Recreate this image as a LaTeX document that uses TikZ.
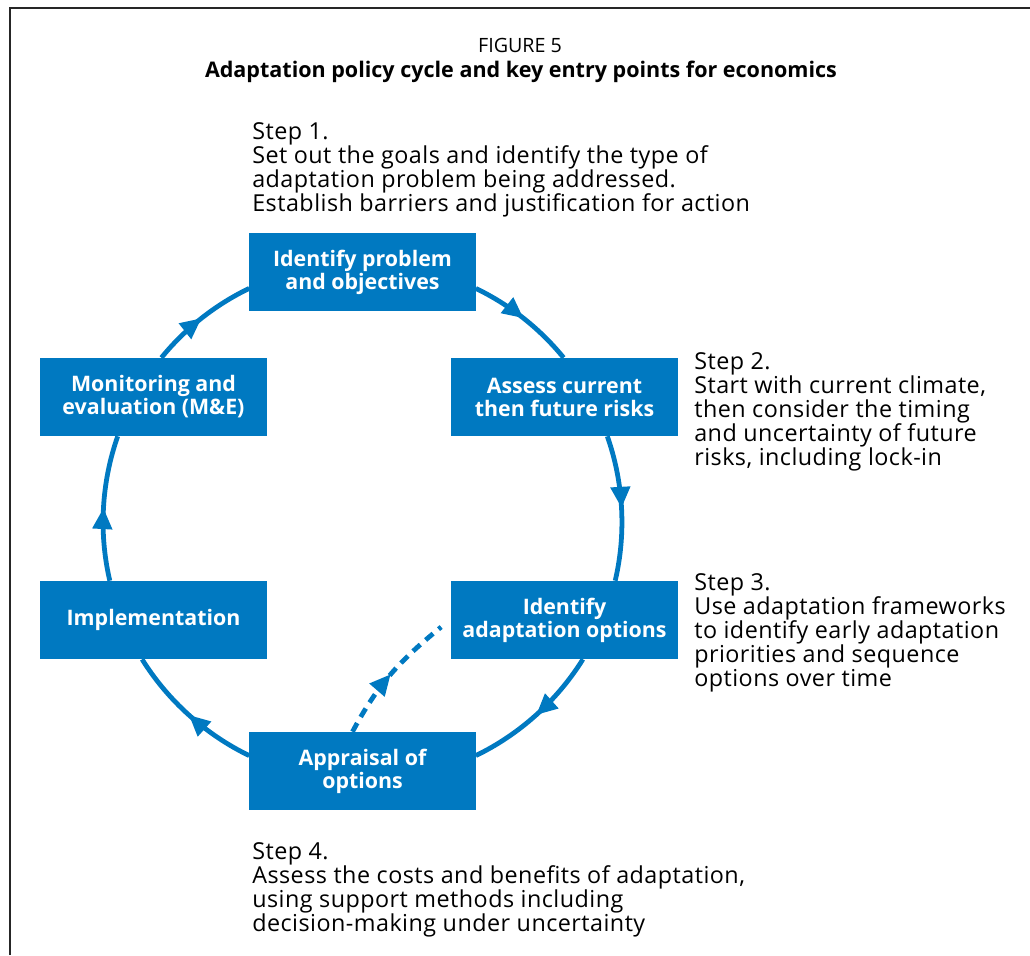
\documentclass[tikz,border=0pt]{standalone}
\usepackage{fontspec}
\setmainfont{Open Sans}
\usetikzlibrary{arrows.meta,calc,decorations.markings,backgrounds}
\definecolor{cycblue}{RGB}{0,121,193}

\begin{document}
\begin{tikzpicture}[x=0.025cm,y=0.025cm,
    loopline/.style={draw=cycblue,line width=3.4pt,looseness=0.865,
        postaction={decorate},
        decoration={markings,mark=at position 0.5 with {\arrow[cycblue]{Triangle[length=15pt,width=13.5pt]}}}},
    entryline/.style={draw=cycblue,line width=3.4pt,dash pattern=on 7pt off 5pt,
        postaction={decorate},
        decoration={markings,mark=at position 0.5 with {\arrow[cycblue]{Triangle[length=15pt,width=13.5pt]}}}},
    steptext/.style={anchor=north west,inner sep=0pt,align=left,
        font=\fontsize{16.6}{17.1}\selectfont\addfontfeature{LetterSpace=2}}]
\useasboundingbox (0,0) rectangle (1030,955);
\draw[line width=1.5pt,black!85] (10,0) -- (10,947) -- (1030,947);

% title
\node (fig) at (520,910) {\fontsize{14}{17}\selectfont FIGURE 5};
\node (ttl) at (521,883) {\fontsize{15.3}{17}\selectfont\bfseries Adaptation policy cycle and key entry points for economics};

% the six stages
\begin{scope}[every node/.style={rectangle,fill=cycblue,text=white,align=center,
        minimum width=5.65cm,minimum height=1.95cm,inner sep=0pt,
        font=\fontsize{15.2}{16.4}\selectfont\bfseries}]
    \node (prob) at (362.5,683) {Identify problem\\and objectives};
    \node (risk) at (564.5,558) {Assess current\\then future risks};
    \node (opts) at (564.5,335) {Identify\\adaptation options};
    \node (appr) at (362.5,184) {Appraisal of\\options};
    \node (impl) at (153.5,335) {Implementation};
    \node (mande) at (153.5,558) {Monitoring and\\evaluation (M\&E)};
\end{scope}

% step notes
\node[steptext] (st1) at (252,833) {Step 1.\\Set out the goals and identify the type of\\adaptation problem being addressed.\\Establish barriers and justification for action};
\node[steptext] (st2) at (694,603) {Step 2.\\Start with current climate,\\then consider the timing\\and uncertainty of future\\risks, including lock-in};
\node[steptext] (st3) at (694,382) {Step 3.\\Use adaptation frameworks\\to identify early adaptation\\priorities and sequence\\options over time};
\node[steptext] (st4) at (252,113) {Step 4.\\Assess the costs and benefits of adaptation,\\using support methods including\\decision-making under uncertainty};

% the cycle
\begin{scope}[on background layer]
    \path ($(prob.east)+(0,-16.4)$) edge[loopline,out=-25.8,in=129.2] ($(risk.north)+(-0.9,0)$);
    \path ($(risk.south)+(42.8,0)$) edge[loopline,out=-70.6,in=76.8] ($(opts.north)+(50.7,0)$);
    \path ($(opts.south)+(18.4,0)$) edge[loopline,out=-121.9,in=25.8] ($(appr.east)+(0,15.4)$);
    \path ($(appr.west)+(0,15.4)$) edge[loopline,out=154.2,in=301.9] ($(impl.south)+(-11.4,0)$);
    \path ($(impl.north)+(-43.7,0)$) edge[loopline,out=103.2,in=250.6] ($(mande.south)+(-35.8,0)$);
    \path ($(mande.north)+(7.9,0)$) edge[loopline,out=50.8,in=205.8] ($(prob.west)+(0,-16.4)$);
    \path ($(appr.north)+(-10,0)$) edge[entryline,out=62,in=219] ($(opts.west)+(-10,-7)$);
\end{scope}
\end{tikzpicture}
\end{document}
